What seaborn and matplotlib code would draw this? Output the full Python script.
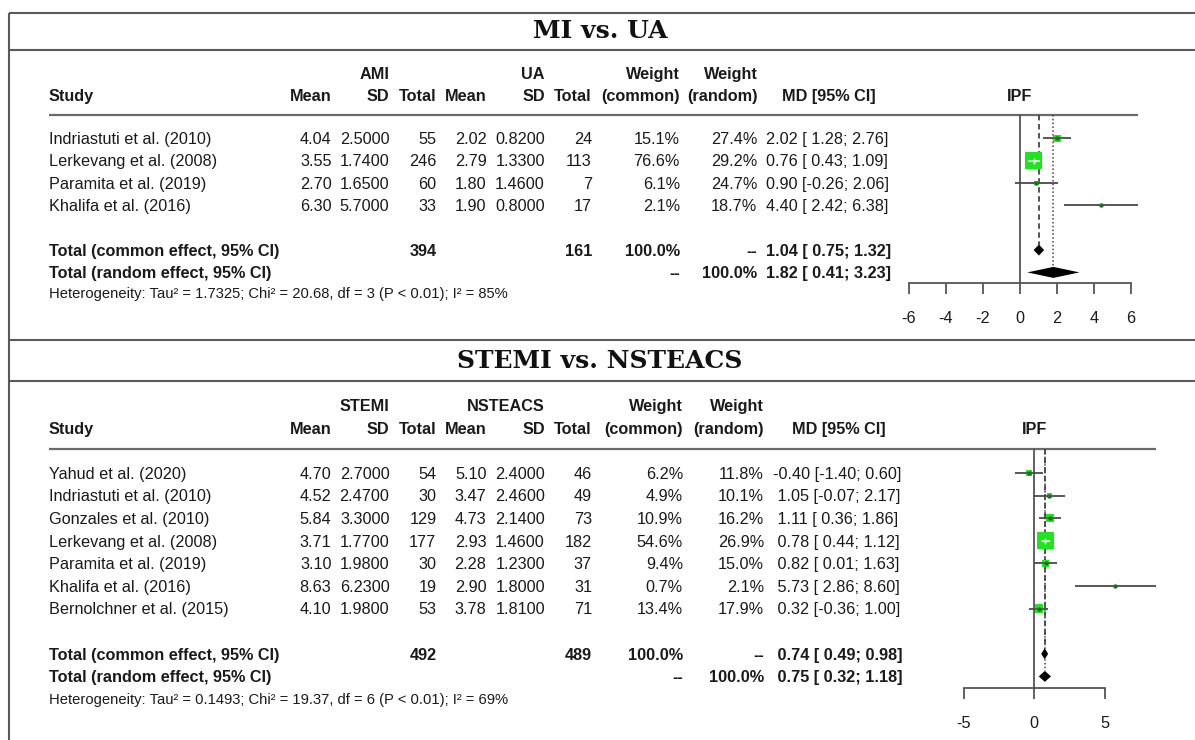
import numpy as np
import pandas as pd
import matplotlib
matplotlib.use("Agg")
import matplotlib.pyplot as plt
import seaborn as sns

sns.set_theme(style="white")
plt.rcParams["font.family"] = ["Liberation Sans", "DejaVu Sans"]

# ---------------- data: MI vs. UA ----------------
mi_studies = ["Indriastuti et al. (2010)", "Lerkevang et al. (2008)",
              "Paramita et al. (2019)", "Khalifa et al. (2016)"]
mi_mean_e = [4.04, 3.55, 2.70, 6.30]
mi_sd_e = [2.5, 1.74, 1.65, 5.7]
mi_n_e = [55, 246, 60, 33]
mi_mean_c = [2.02, 2.79, 1.80, 1.90]
mi_sd_c = [0.82, 1.33, 1.46, 0.80]
mi_n_c = [24, 113, 7, 17]
mi_w_common = [15.1, 76.6, 6.1, 2.1]
mi_w_random = [27.4, 29.2, 24.7, 18.7]
mi_md = [2.02, 0.76, 0.90, 4.40]
mi_lower = [1.28, 0.43, -0.26, 2.42]
mi_upper = [2.76, 1.09, 2.06, 6.38]
mi_common = [1.04, 0.75, 1.32]
mi_random = [1.82, 0.41, 3.23]
mi_totals = [394, 161]
mi_het = "Heterogeneity: Tau² = 1.7325; Chi² = 20.68, df = 3 (P < 0.01); I² = 85%"
mi_ticks = [-6, -4, -2, 0, 2, 4, 6]

# ---------------- data: STEMI vs. NSTEACS ----------------
st_studies = ["Yahud et al. (2020)", "Indriastuti et al. (2010)", "Gonzales et al. (2010)",
              "Lerkevang et al. (2008)", "Paramita et al. (2019)", "Khalifa et al. (2016)",
              "Bernolchner et al. (2015)"]
st_mean_e = [4.70, 4.52, 5.84, 3.71, 3.10, 8.63, 4.10]
st_sd_e = [2.70, 2.47, 3.30, 1.77, 1.98, 6.23, 1.98]
st_n_e = [54, 30, 129, 177, 30, 19, 53]
st_mean_c = [5.10, 3.47, 4.73, 2.93, 2.28, 2.90, 3.78]
st_sd_c = [2.40, 2.46, 2.14, 1.46, 1.23, 1.80, 1.81]
st_n_c = [46, 49, 73, 182, 37, 31, 71]
st_w_common = [6.2, 4.9, 10.9, 54.6, 9.4, 0.7, 13.4]
st_w_random = [11.8, 10.1, 16.2, 26.9, 15.0, 2.1, 17.9]
st_md = [-0.40, 1.05, 1.11, 0.78, 0.82, 5.73, 0.32]
st_lower = [-1.40, -0.07, 0.36, 0.44, 0.01, 2.86, -0.36]
st_upper = [0.60, 2.17, 1.86, 1.12, 1.63, 8.60, 1.00]
st_common = [0.74, 0.49, 0.98]
st_random = [0.75, 0.32, 1.18]
st_totals = [492, 489]
st_het = "Heterogeneity: Tau² = 0.1493; Chi² = 19.37, df = 6 (P < 0.01); I² = 69%"
st_ticks = [-5, 0, 5]

W, H = 1195, 740
fig = plt.figure(figsize=(W / 100, H / 100), dpi=100)
fig.patch.set_facecolor("white")
ax0 = fig.add_axes([0, 0, 1, 1])
ax0.set_xlim(0, W)
ax0.set_ylim(H, 0)
ax0.axis("off")

TXT = "#1a1a1a"
LINE = "#555555"
FS = 11.7
GREEN = "#1fe51f"

# outer frame
frame_kw = dict(color="#5a5a5a", lw=1.5, solid_capstyle="butt")
ax0.plot([9, 9], [12.5, H], **frame_kw)
for yy in [12.5, 50, 340, 381]:
    ax0.plot([9, W], [yy, yy], **frame_kw)

TITLE_FONT = dict(family=["DejaVu Serif"], fontweight="bold", fontsize=18, color="#111111")


def fmt_ci(est, lo, hi, w_est):
    return f"{est:{w_est}.2f} [{lo:5.2f}; {hi:.2f}]"


def draw_panel(cfg, studies, mean_e, sd_e, n_e, mean_c, sd_c, n_c, w_com, w_ran,
               md, lower, upper, common, random, totals, het, ticks):
    ax0.text(600, cfg["title_y"], cfg["title"], ha="center", va="center", **TITLE_FONT)
    cols = cfg["cols"]
    base = 5.8  # baseline offset from row centre

    def t(x, y, s, ha="right", bold=False, fs=FS):
        ax0.text(x, y + base, s, ha=ha, va="baseline", fontsize=fs, color=TXT,
                 fontweight="bold" if bold else "normal")

    gy, hy = cfg["grp_y"], cfg["hdr_y"]
    # header
    t(cols["sd_e"], gy, cfg["lab_e"], bold=True)
    t(cols["sd_c"], gy, cfg["lab_c"], bold=True)
    t(cols["wc"], gy, "Weight", bold=True)
    t(cols["wr"], gy, "Weight", bold=True)
    t(cols["study"], hy, "Study", ha="left", bold=True)
    t(cols["mean_e"], hy, "Mean", bold=True)
    t(cols["sd_e"], hy, "SD", bold=True)
    t(cols["n_e"], hy, "Total", bold=True)
    t(cols["mean_c"], hy, "Mean", bold=True)
    t(cols["sd_c"], hy, "SD", bold=True)
    t(cols["n_c"], hy, "Total", bold=True)
    t(cols["wc"], hy, "(common)", bold=True)
    t(cols["wr"], hy, "(random)", bold=True)
    t(cols["md_c"], hy, "MD [95% CI]", ha="center", bold=True)

    n = len(studies)
    ys = [cfg["row0"] + i * cfg["dy"] for i in range(n)]
    y_com = cfg["row0"] + (n + 1) * cfg["dy"]
    y_ran = cfg["row0"] + (n + 2) * cfg["dy"]
    y_het = cfg["row0"] + (n + 3) * cfg["dy"] + cfg["het_off"]
    w_est = max(len(f"{v:.2f}") for v in md)
    for i in range(n):
        y = ys[i]
        t(cols["study"], y, studies[i], ha="left")
        t(cols["mean_e"], y, f"{mean_e[i]:.2f}")
        t(cols["sd_e"], y, f"{sd_e[i]:.4f}")
        t(cols["n_e"], y, f"{n_e[i]}")
        t(cols["mean_c"], y, f"{mean_c[i]:.2f}")
        t(cols["sd_c"], y, f"{sd_c[i]:.4f}")
        t(cols["n_c"], y, f"{n_c[i]}")
        t(cols["wc"], y, f"{w_com[i]:.1f}%")
        t(cols["wr"], y, f"{w_ran[i]:.1f}%")
        t(cols["md_l"], y, fmt_ci(md[i], lower[i], upper[i], w_est), ha="left")
    # totals
    t(cols["study"], y_com, "Total (common effect, 95% CI)", ha="left", bold=True)
    t(cols["n_e"], y_com, f"{totals[0]}", bold=True)
    t(cols["n_c"], y_com, f"{totals[1]}", bold=True)
    t(cols["wc"], y_com, "100.0%", bold=True)
    t(cols["wr"], y_com, "--", bold=True)
    t(cols["md_l"], y_com, fmt_ci(common[0], common[1], common[2], w_est), ha="left", bold=True)
    t(cols["study"], y_ran, "Total (random effect, 95% CI)", ha="left", bold=True)
    t(cols["wc"], y_ran, "--", bold=True)
    t(cols["wr"], y_ran, "100.0%", bold=True)
    t(cols["md_l"], y_ran, fmt_ci(random[0], random[1], random[2], w_est), ha="left", bold=True)
    t(cols["study"], y_het, het, ha="left", fs=10.6)

    # ---------------- forest axes ----------------
    zero, ppu = cfg["zero_px"], cfg["ppu"]
    xl = cfg["xlim"]
    left_px = zero + xl[0] * ppu
    width_px = (xl[1] - xl[0]) * ppu
    ax = fig.add_axes([left_px / W, 0, width_px / W, 1])
    ax.set_xlim(*xl)
    ax.set_ylim(H, 0)
    ax.patch.set_visible(False)
    for s in ["left", "right", "top"]:
        ax.spines[s].set_visible(False)
    ax.spines["bottom"].set_position(("data", cfg["axis_y"]))
    ax.spines["bottom"].set_bounds(ticks[0], ticks[-1])
    ax.spines["bottom"].set_color(LINE)
    ax.spines["bottom"].set_linewidth(1.3)
    ax.set_xticks(ticks)
    ax.set_xticklabels([f"{v}" for v in ticks])
    ax.set_yticks([])
    ax.tick_params(axis="x", direction="out", length=11 * 0.72, width=1.3, color=LINE,
                   labelsize=FS, labelcolor=TXT, pad=cfg["pad"], bottom=True)
    ax.grid(False)

    # header rule (spans table + forest up to the largest upper CI)
    hl = cfg["hline_y"]
    x_left_data = (cols["study"] - zero) / ppu
    ax.plot([x_left_data, max(upper)], [hl, hl], color="#6a6a6a", lw=1.6, clip_on=False,
            solid_capstyle="butt")
    ax.text(0, hy + base, "IPF", ha="center", va="baseline", fontsize=FS, color=TXT,
            fontweight="bold")

    hd = 5.5  # diamond half height (px)
    # reference lines
    ax.plot([0, 0], [hl, cfg["axis_y"]], color=LINE, lw=1.3, clip_on=False)
    ax.plot([common[0], common[0]], [hl, y_com - hd], color="#444444", lw=1.3,
            ls=(0, (3, 2)), clip_on=False)
    ax.plot([random[0], random[0]], [hl, y_ran - hd], color="#444444", lw=1.1,
            ls=(0, (1, 1.5)), clip_on=False)

    # CI lines
    df = pd.DataFrame({"md": md, "lo": lower, "hi": upper, "y": ys, "w": w_com})
    smax = cfg["smax"]
    wmax = max(w_com)
    ax.hlines(df["y"], df["lo"], df["hi"], color="#4a4a4a", lw=1.3, zorder=2, clip_on=False)
    sns.scatterplot(data=df, x="md", y="y", size="w", sizes=(0, smax), size_norm=(0, wmax),
                    marker="s", color=GREEN, edgecolor="none", linewidth=0, legend=False,
                    ax=ax, zorder=3, clip_on=False)
    for _, r in df.iterrows():
        half = np.sqrt(smax * r["w"] / wmax) / 0.72 / 2 / ppu
        inside = (r["lo"] >= r["md"] - half) and (r["hi"] <= r["md"] + half)
        if inside:
            ax.hlines(r["y"], r["lo"], r["hi"], color="white", lw=1.1, zorder=4)
            ax.plot([r["md"]], [r["y"]], marker="+", ms=5, mew=1, color="white", zorder=5)
        else:
            ax.hlines(r["y"], max(r["lo"], r["md"] - half), min(r["hi"], r["md"] + half),
                      color="#2e7d2e", lw=1.3, zorder=4)
            ax.plot([r["md"]], [r["y"]], marker="o", ms=3.2, mew=0, color="#1f6f1f", zorder=5)
    ax.set_xlabel("")
    ax.set_ylabel("")

    # diamonds
    for est, lo, hi, y in [(common[0], common[1], common[2], y_com),
                           (random[0], random[1], random[2], y_ran)]:
        ax.fill([lo, est, hi, est], [y, y - hd, y, y + hd], color="black", zorder=5,
                clip_on=False, lw=0)


top_cfg = dict(title="MI vs. UA", title_y=31, grp_y=73, hdr_y=95, hline_y=115,
               row0=138.3, dy=22.35, het_off=-2.5, lab_e="AMI", lab_c="UA",
               zero_px=1019.7, ppu=18.5, xlim=(-6.5, 7.0), axis_y=283, pad=12, smax=150,
               cols=dict(study=49, mean_e=331.5, sd_e=389.5, n_e=436.5, mean_c=486.5,
                         sd_c=545, n_c=592, wc=680, wr=757.5, md_l=766, md_c=829))
bot_cfg = dict(title="STEMI vs. NSTEACS", title_y=361, grp_y=405, hdr_y=428, hline_y=449,
               row0=473, dy=22.6, het_off=-1, lab_e="STEMI", lab_c="NSTEACS",
               zero_px=1034.3, ppu=14.1, xlim=(-6.0, 9.0), axis_y=688, pad=12, smax=155,
               cols=dict(study=49, mean_e=331.5, sd_e=389.5, n_e=436.5, mean_c=486.5,
                         sd_c=545, n_c=592, wc=683, wr=764, md_l=773, md_c=839))

draw_panel(top_cfg, mi_studies, mi_mean_e, mi_sd_e, mi_n_e, mi_mean_c, mi_sd_c, mi_n_c,
           mi_w_common, mi_w_random, mi_md, mi_lower, mi_upper, mi_common, mi_random,
           mi_totals, mi_het, mi_ticks)
draw_panel(bot_cfg, st_studies, st_mean_e, st_sd_e, st_n_e, st_mean_c, st_sd_c, st_n_c,
           st_w_common, st_w_random, st_md, st_lower, st_upper, st_common, st_random,
           st_totals, st_het, st_ticks)

fig.savefig("out.png", dpi=100, facecolor="white")
